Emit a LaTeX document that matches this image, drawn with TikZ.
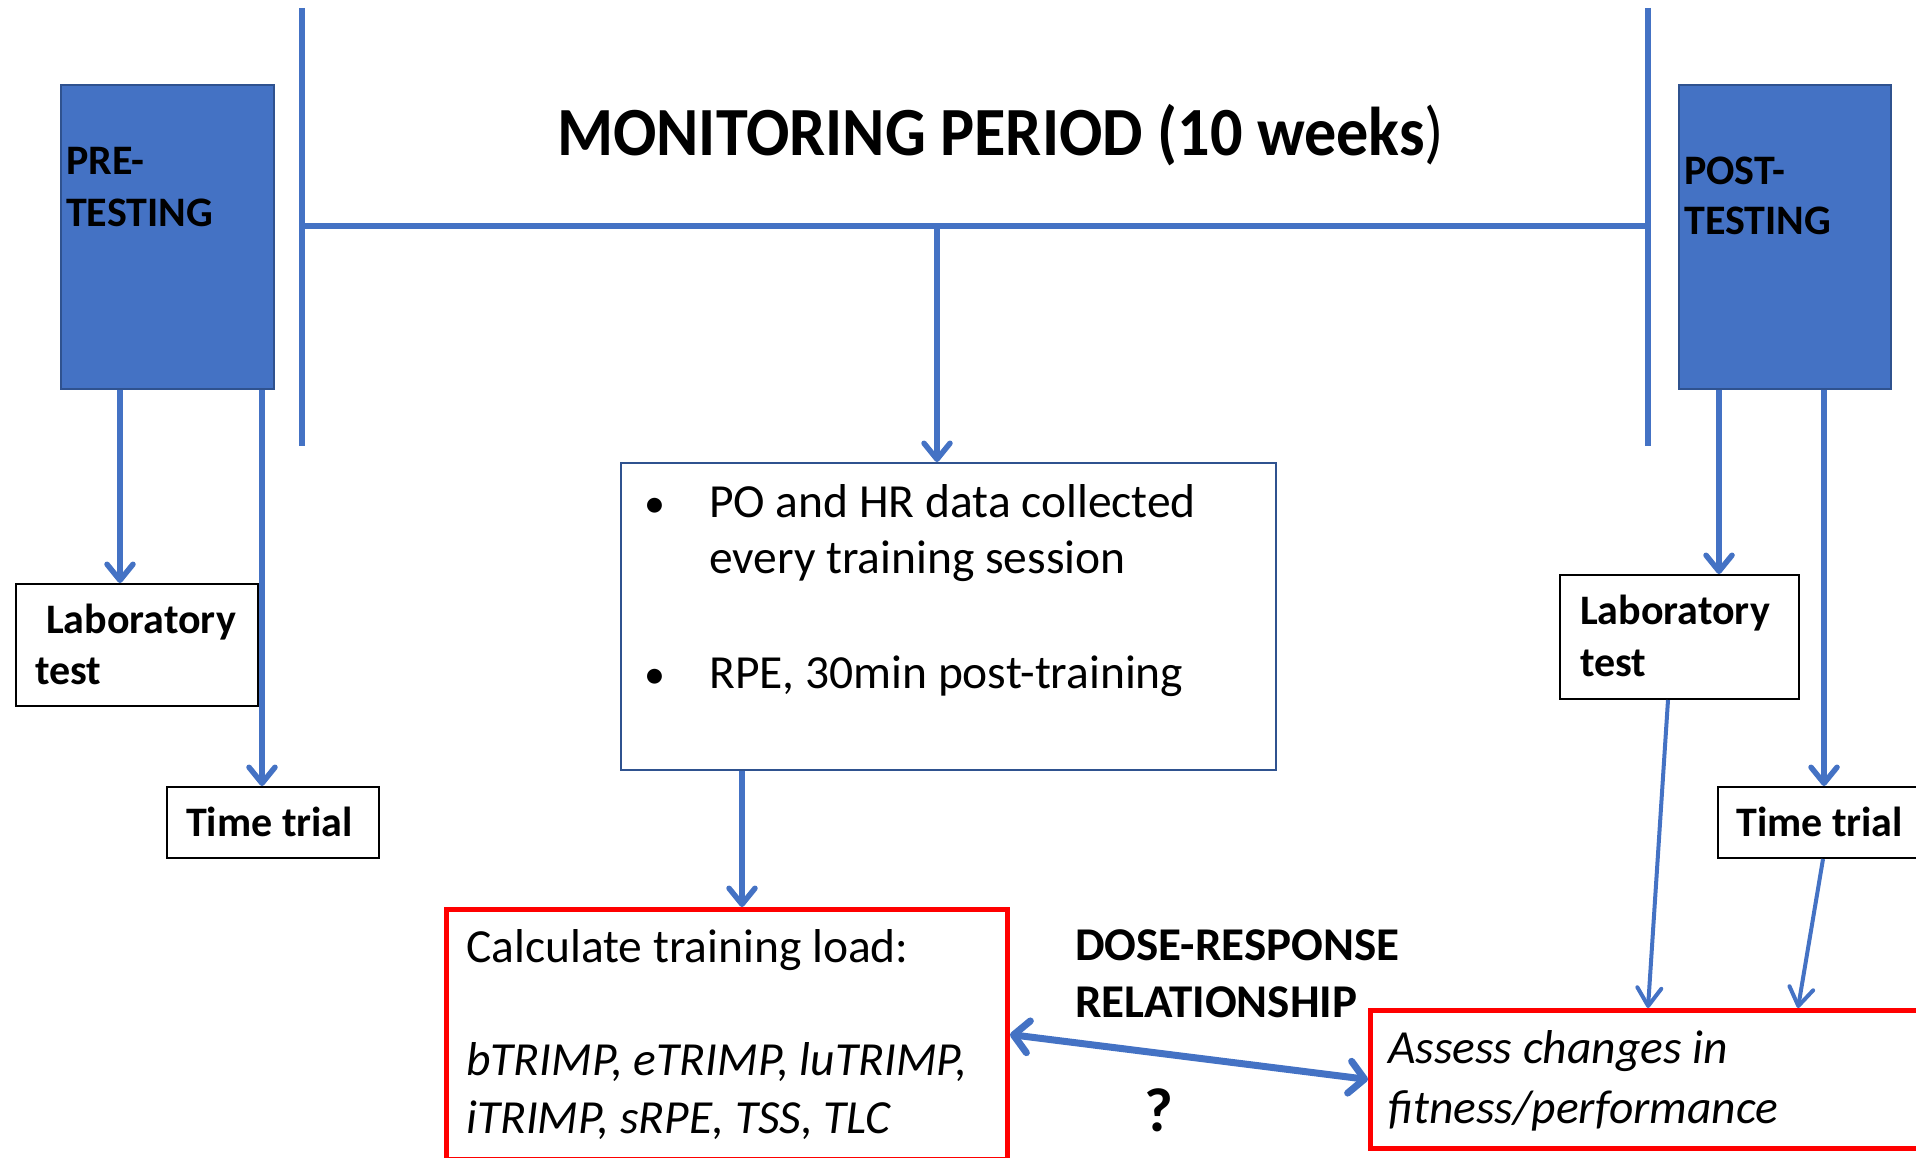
\documentclass[tikz,border=0pt]{standalone}
\usepackage{fontspec}
\setmainfont{Carlito}
\usetikzlibrary{arrows.meta}
\definecolor{obl}{HTML}{4472C4}
\definecolor{obd}{HTML}{2F528F}
\definecolor{ored}{HTML}{FF0000}
\begin{document}
\begin{tikzpicture}[x=1pt,y=-1pt,
  phase/.style={draw=obd, line width=2pt, fill=obl, anchor=north west, inner sep=0pt},
  wbox/.style={draw=black, line width=2pt, fill=white, anchor=north west, inner sep=0pt},
  rbox/.style={draw=ored, line width=5pt, anchor=north west, inner sep=0pt},
  mbox/.style={draw=obd, line width=2pt, anchor=north west, inner sep=0pt},
  bar/.style={draw=obl, line width=5.5pt},
  arr/.style={draw=obl, line width=5.5pt, -{Straight Barb[length=16pt,width=26pt,round]}},
  tarr/.style={draw=obl, line width=4pt, -{Straight Barb[length=18pt,width=24pt,round]}},
  darr/.style={draw=obl, line width=7pt, {Straight Barb[length=15pt,width=32pt,round]}-{Straight Barb[length=15pt,width=32pt,round]}},
  tb/.style={anchor=base west, inner sep=0pt, font=\fontsize{42}{50}\selectfont\bfseries},
  tm/.style={anchor=base west, inner sep=0pt, font=\fontsize{47.5}{56}\selectfont},
  bul/.style={anchor=base west, inner sep=0pt, font=\fontsize{42}{46}\selectfont},
  ti/.style={anchor=base west, inner sep=0pt, font=\fontsize{47.5}{56}\selectfont\itshape},
  td/.style={anchor=base west, inner sep=0pt, font=\fontsize{47}{56}\selectfont\bfseries},
]
\useasboundingbox (0,0) rectangle (1916,1158);
% phase boxes
\node[phase, minimum width=213pt, minimum height=304pt] (pre) at (60,84) {};
\node[phase, minimum width=212pt, minimum height=304pt] (post) at (1678,84) {};
\node[tb] (preA) at (66,175) {PRE-};
\node[tb] (preB) at (66,227) {TESTING};
\node[tb] (postA) at (1684,185) {POST-};
\node[tb] (postB) at (1684,235) {TESTING};
% monitoring bracket
\coordinate (vl1) at (302,8);
\coordinate (vl2) at (302,446);
\coordinate (vr1) at (1648,8);
\coordinate (vr2) at (1648,446);
\coordinate (hl) at (302,226);
\coordinate (hr) at (1648,226);
\coordinate (hj) at (937,226);
\draw[bar] (vl1) -- (vl2);
\draw[bar] (vr1) -- (vr2);
\draw[bar] (hl) -- (hr);
\node[anchor=base west, inner sep=0pt, font=\fontsize{69}{80}\selectfont] (title) at (557,156) {\scalebox{0.93}[1]{\bfseries MONITORING PERIOD (10 weeks\mdseries)}};
% middle box
\node[mbox, minimum width=655pt, minimum height=307pt] (mid) at (620,462) {};
\node[bul] (b1) at (644,517) {•};
\node[tm] (m1) at (709,517) {PO and HR data collected};
\node[tm] (m2) at (709,573) {every training session};
\node[bul] (b2) at (644,688) {•};
\node[tm] (m3) at (709,688) {RPE, 30min post-training};
\draw[arr] (hj) -- (hj |- mid.north);
% left tests
\node[wbox, minimum width=242pt, minimum height=122pt] (labL) at (15,583) {};
\node[tb] (labLa) at (46,633) {Laboratory};
\node[tb] (labLb) at (35,684) {test};
\node[wbox, minimum width=212pt, minimum height=71pt] (ttL) at (166,786) {};
\node[tb] (ttLt) at (186,836) {Time trial};
\coordinate (xa) at (120,0);
\coordinate (xb) at (262,0);
\draw[arr] (pre.south -| xa) -- (labL.north -| xa);
\draw[arr] (pre.south -| xb) -- (ttL.north -| xb);
% right tests
\node[wbox, minimum width=239pt, minimum height=124pt] (labR) at (1559,574) {};
\node[tb] (labRa) at (1580,624) {Laboratory};
\node[tb] (labRb) at (1580,676) {test};
\node[wbox, minimum width=250pt, minimum height=71pt] (ttR) at (1717,786) {};
\node[tb] (ttRt) at (1736,836) {Time trial};
\coordinate (xc) at (1719,0);
\coordinate (xd) at (1824,0);
\draw[arr] (post.south -| xc) -- (labR.north -| xc);
\draw[arr] (post.south -| xd) -- (ttR.north -| xd);
% calc box
\node[rbox, minimum width=561pt, minimum height=250pt] (calc) at (444,907) {};
\node[tm] (c1) at (466,962) {Calculate training load:};
\node[ti] (c2) at (466,1075) {bTRIMP, eTRIMP, luTRIMP,};
\node[ti] (c3) at (466,1133) {iTRIMP, sRPE, TSS, TLC};
\coordinate (xe) at (742,0);
\draw[arr] (mid.south -| xe) -- (calc.north -| xe);
% assess box
\node[rbox, minimum width=600pt, minimum height=138pt] (assess) at (1368,1008) {};
\node[ti] (a1) at (1388,1063) {Assess changes in};
\node[ti] (a2) at (1388,1123) {fitness/performance};
\coordinate (xf) at (1668,0);
\coordinate (xg) at (1648,0);
\coordinate (xh) at (1823,0);
\coordinate (xi) at (1798,0);
\draw[tarr] (labR.south -| xf) -- (assess.north -| xg);
\draw[tarr] (ttR.south -| xh) -- (assess.north -| xi);
% dose-response
\node[td] (d1) at (1075,960) {DOSE-RESPONSE};
\node[td] (d2) at (1075,1017) {RELATIONSHIP};
\node[anchor=base west, inner sep=0pt, font=\fontsize{62}{70}\selectfont\bfseries] (q) at (1144,1131) {?};
\draw[darr] (calc.east) -- (assess.west);
\end{tikzpicture}
\end{document}
